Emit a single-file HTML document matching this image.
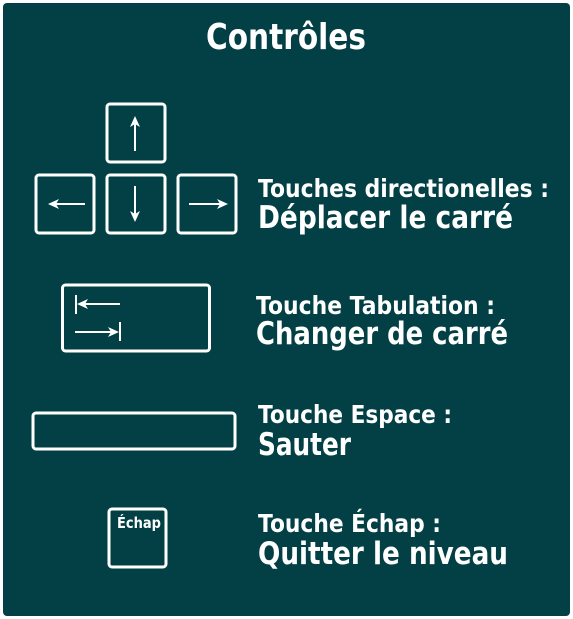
<!DOCTYPE html>
<html><head><meta charset="utf-8"><style>
html,body{margin:0;padding:0;background:#fff;}
svg{display:block;}
text{font-family:"DejaVu Sans","Liberation Sans",sans-serif;font-weight:bold;fill:#fff;}
</style></head><body>
<svg width="573" height="619" viewBox="0 0 573 619" xmlns="http://www.w3.org/2000/svg">
<rect x="0" y="0" width="573" height="619" fill="#fff"/>
<rect x="3" y="3" width="567" height="613" rx="4" fill="#024046"/>
<g fill="none" stroke="#fff" stroke-width="3">
<rect x="107" y="104" width="58" height="58" rx="3"/>
<rect x="36" y="175" width="58" height="58" rx="3"/>
<rect x="107" y="175" width="58" height="58" rx="3"/>
<rect x="178" y="175" width="58" height="58" rx="3"/>
<rect x="62.5" y="285" width="147" height="66" rx="3"/>
<rect x="33" y="413" width="202" height="36" rx="3"/>
<rect x="109" y="509" width="57" height="58" rx="3"/>
</g>
<g stroke="#fff" stroke-width="2" fill="#fff">
<line x1="135" y1="151" x2="135" y2="120"/><path d="M135 116 l-5 11 l5 -3 l5 3z" stroke="none"/>
<line x1="135" y1="186" x2="135" y2="218"/><path d="M135 222 l-5 -11 l5 3 l5 -3z" stroke="none"/>
<line x1="85" y1="204" x2="54" y2="204"/><path d="M48 204 l11 -5 l-3 5 l3 5z" stroke="none"/>
<line x1="189" y1="204" x2="222" y2="204"/><path d="M228 204 l-11 -5 l3 5 l-3 5z" stroke="none"/>
<line x1="76" y1="295" x2="76" y2="314"/><line x1="81" y1="304" x2="120" y2="304"/><path d="M77 304 l11 -5 l-3 5 l3 5z" stroke="none"/>
<line x1="120" y1="322" x2="120" y2="341"/><line x1="75" y1="332" x2="114" y2="332"/><path d="M119 332 l-11 -5 l3 5 l-3 5z" stroke="none"/>
</g>
<text x="206" y="49" font-size="36" textLength="160" lengthAdjust="spacingAndGlyphs">Contrôles</text>
<text x="258" y="197" font-size="25" textLength="291" lengthAdjust="spacingAndGlyphs">Touches directionelles :</text>
<text x="258" y="228" font-size="31" textLength="255" lengthAdjust="spacingAndGlyphs">Déplacer le carré</text>
<text x="256" y="314" font-size="25" textLength="239" lengthAdjust="spacingAndGlyphs">Touche Tabulation :</text>
<text x="256" y="344" font-size="31" textLength="252" lengthAdjust="spacingAndGlyphs">Changer de carré</text>
<text x="258" y="423" font-size="25" textLength="194" lengthAdjust="spacingAndGlyphs">Touche Espace :</text>
<text x="258" y="455" font-size="31" textLength="93" lengthAdjust="spacingAndGlyphs">Sauter</text>
<text x="258" y="532" font-size="25" textLength="183" lengthAdjust="spacingAndGlyphs">Touche Échap :</text>
<text x="258" y="564" font-size="31" textLength="250" lengthAdjust="spacingAndGlyphs">Quitter le niveau</text>
<text x="117" y="528" font-size="15" textLength="44" lengthAdjust="spacingAndGlyphs">Échap</text>
</svg>
</body></html>
